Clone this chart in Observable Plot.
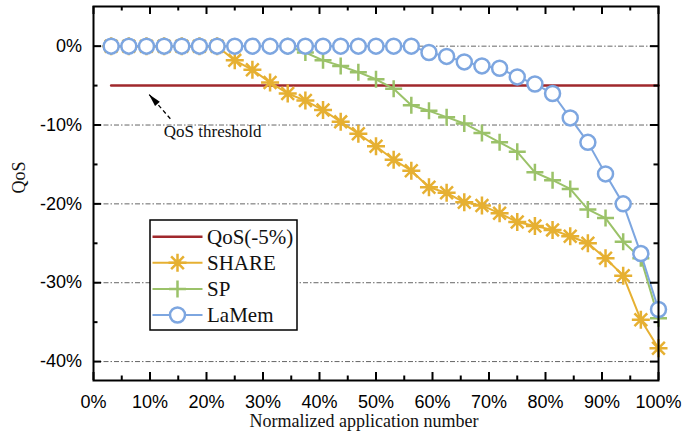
<!DOCTYPE html>
<html><head><meta charset="utf-8">
<script src="https://cdn.jsdelivr.net/npm/d3@7"></script>
<script src="https://cdn.jsdelivr.net/npm/@observablehq/plot@0.6"></script>
<style>body{margin:0;background:#fff}#chart{width:699px;height:439px}</style>
</head><body><div id="chart"></div>
<script>
// Normalized application number (%)
const appX = [3.125, 6.25, 9.375, 12.5, 15.625, 18.75, 21.875, 25, 28.125, 31.25, 34.375, 37.5, 40.625, 43.75, 46.875, 50,
  53.125, 56.25, 59.375, 62.5, 65.625, 68.75, 71.875, 75, 78.125, 81.25, 84.375, 87.5, 90.625, 93.75, 96.875, 100];
const shareQoS = [0, 0, 0, 0, 0, 0, 0, -1.8, -3.0, -4.6, -6.0, -6.9, -8.1, -9.6, -11.1, -12.7,
  -14.4, -15.8, -17.9, -18.6, -19.8, -20.2, -21.2, -22.3, -22.8, -23.3, -24.1, -25.0, -26.9, -29.1, -34.7, -38.3];
const spQoS = [0, 0, 0, 0, 0, 0, 0, 0, 0, 0, 0, -0.8, -1.8, -2.5, -3.3, -4.2,
  -5.4, -7.5, -8.2, -9.0, -9.8, -11.0, -12.2, -13.4, -16.0, -17.0, -18.1, -20.7, -21.8, -24.8, -26.9, -34.5];
const lamemQoS = [0, 0, 0, 0, 0, 0, 0, 0, 0, 0, 0, 0, 0, 0, 0, 0,
  0, 0, -0.8, -1.3, -2.0, -2.5, -2.8, -3.9, -4.8, -6.0, -9.1, -12.2, -16.2, -20.0, -26.3, -33.4];
const qosLevel = -5;
const seriesNames = ["QoS(-5%)", "SHARE", "SP", "LaMem"];
const xDomain = [0, 100];
const yDomain = [-42.4, 5.03];
const xMajor = [0, 10, 20, 30, 40, 50, 60, 70, 80, 90, 100];
const xMinor = [5, 15, 25, 35, 45, 55, 65, 75, 85, 95];
const yMajor = [0, -10, -20, -30, -40];
const yMinor = [-5, -15, -25, -35];
const annotText = "QoS threshold";
const annotTextPos = [21.1, -10.8];
const annotTail = [13.6, -9.2];
const annotTip = [9.8, -6.1];

const colors = {qos: "#A0282C", share: "#E6B032", sp: "#9BC269", lamem: "#7DA6E0"};

const W = 699, H = 439, mL = 93, mR = 41, mT = 6, mB = 59;
// data units per pixel (to express tick lengths in pixels)
const kx = (xDomain[1] - xDomain[0]) / (W - mL - mR);
const ky = (yDomain[1] - yDomain[0]) / (H - mT - mB);

const asteriskSym = {draw(ctx, size) {
  const r = Math.sqrt(size / Math.PI), d = r * Math.SQRT1_2;
  ctx.moveTo(-r, 0); ctx.lineTo(r, 0);
  ctx.moveTo(0, -r); ctx.lineTo(0, r);
  ctx.moveTo(-d, -d); ctx.lineTo(d, d);
  ctx.moveTo(-d, d); ctx.lineTo(d, -d);
}};
const plusSym = {draw(ctx, size) {
  const r = Math.sqrt(size / Math.PI);
  ctx.moveTo(-r, 0); ctx.lineTo(r, 0);
  ctx.moveTo(0, -r); ctx.lineTo(0, r);
}};
const headSym = {draw(ctx, size) {
  const r = Math.sqrt(size / Math.PI);
  ctx.moveTo(0, 0); ctx.lineTo(0.4 * r, 1.6 * r); ctx.lineTo(-0.4 * r, 1.6 * r); ctx.closePath();
}};

const share = appX.map((x, i) => ({x, y: shareQoS[i]}));
const sp = appX.map((x, i) => ({x, y: spQoS[i]})).filter((d, i) => i >= 10);
const lamem = appX.map((x, i) => ({x, y: lamemQoS[i]}));
const qos = appX.map(x => ({x, y: qosLevel}));

const sans = "Liberation Sans, Arial, sans-serif";
const serif = "Liberation Serif, Times New Roman, serif";

// inward tick marks on all four sides, drawn as short rules
const tickStyle = {stroke: "black", strokeWidth: 2, strokeLinecap: "butt"};
const xTicks = (vals, len) => [
  Plot.ruleX(vals, {x: d => d, y1: () => yDomain[0], y2: () => yDomain[0] + len * ky, ...tickStyle}),
  Plot.ruleX(vals, {x: d => d, y1: () => yDomain[1], y2: () => yDomain[1] - len * ky, ...tickStyle})
];
const yTicks = (vals, len) => [
  Plot.ruleY(vals, {y: d => d, x1: () => xDomain[0], x2: () => xDomain[0] + len * kx, ...tickStyle}),
  Plot.ruleY(vals, {y: d => d, x1: () => xDomain[1], x2: () => xDomain[1] - len * kx, ...tickStyle})
];

const plot = Plot.plot({
  width: W, height: H,
  marginLeft: mL, marginRight: mR, marginTop: mT, marginBottom: mB,
  x: {domain: xDomain, label: null},
  y: {domain: yDomain, label: null},
  style: {fontFamily: sans, background: "white"},
  marks: [
    Plot.ruleY(yMajor, {stroke: "#666", strokeWidth: 1, strokeDasharray: "5,2,1.5,2"}),
    Plot.line(qos, {x: "x", y: "y", stroke: colors.qos, strokeWidth: 2.5}),
    Plot.link([0], {x1: () => annotTail[0], y1: () => annotTail[1], x2: () => annotTip[0], y2: () => annotTip[1],
      stroke: "black", strokeWidth: 1.3, strokeDasharray: "4,3"}),
    Plot.dot([0], {x: () => annotTip[0], y: () => annotTip[1], symbol: headSym, r: 8, fill: "black", stroke: "none", rotate: -42}),
    Plot.text([annotText], {x: () => annotTextPos[0], y: () => annotTextPos[1], text: d => d,
      fontFamily: serif, fontSize: 17, fill: "#111"}),
    Plot.line(share, {x: "x", y: "y", stroke: colors.share, strokeWidth: 2}),
    Plot.dot(share, {x: "x", y: "y", symbol: asteriskSym, r: 9, stroke: colors.share, fill: "none", strokeWidth: 2.5}),
    Plot.line(sp, {x: "x", y: "y", stroke: colors.sp, strokeWidth: 2}),
    Plot.dot(sp, {x: "x", y: "y", symbol: plusSym, r: 8.5, stroke: colors.sp, fill: "none", strokeWidth: 2.5}),
    Plot.line(lamem, {x: "x", y: "y", stroke: colors.lamem, strokeWidth: 2}),
    Plot.dot(lamem, {x: "x", y: "y", r: 7.5, stroke: colors.lamem, fill: "white", strokeWidth: 2.5}),
    Plot.frame({stroke: "black", strokeWidth: 2}),
    ...xTicks(xMajor, 8), ...xTicks(xMinor, 4.5),
    ...yTicks(yMajor, 8), ...yTicks(yMinor, 4.5),
    Plot.axisX({ticks: xMajor, anchor: "bottom", tickSize: 0, tickPadding: 15, tickFormat: d => d + "%", fontSize: 18, label: null}),
    Plot.axisY({ticks: yMajor, anchor: "left", tickSize: 0, tickPadding: 11.5, tickFormat: d => d + "%", fontSize: 18, label: null}),
    Plot.text(["Normalized application number"], {frameAnchor: "bottom", dy: 46, dx: -12, text: d => d,
      fontFamily: serif, fontSize: 18, fill: "#111"}),
    Plot.text(["QoS"], {frameAnchor: "left", dx: -74, rotate: -90, text: d => d,
      fontFamily: serif, fontSize: 18, fill: "#111"})
  ]
});
document.getElementById("chart").appendChild(plot);

// Legend (inside the plot area)
const svg = d3.select(plot);
const lg = svg.append("g").attr("text-anchor", "start");
lg.append("rect").attr("x", 150).attr("y", 220).attr("width", 147).attr("height", 110)
  .attr("fill", "white").attr("stroke", "black").attr("stroke-width", 1.5);
const legendItems = [
  {name: seriesNames[0], color: colors.qos, sym: null, r: 0, fill: "none", lw: 2.5},
  {name: seriesNames[1], color: colors.share, sym: asteriskSym, r: 9, fill: "none", lw: 2},
  {name: seriesNames[2], color: colors.sp, sym: plusSym, r: 8.5, fill: "none", lw: 2},
  {name: seriesNames[3], color: colors.lamem, sym: d3.symbolCircle, r: 7.5, fill: "white", lw: 2}
];
legendItems.forEach((e, i) => {
  const y = 236.7 + i * 26.1;
  lg.append("line").attr("x1", 152.5).attr("x2", 202.5).attr("y1", y).attr("y2", y)
    .attr("stroke", e.color).attr("stroke-width", e.lw);
  if (e.sym) {
    lg.append("path").attr("transform", `translate(177.5,${y})`)
      .attr("d", d3.symbol().type(e.sym).size(e.r * e.r * Math.PI)())
      .attr("fill", e.fill).attr("stroke", e.color).attr("stroke-width", 2.5);
  }
  lg.append("text").attr("x", 207).attr("y", y + 7).attr("text-anchor", "start")
    .style("font-family", serif).style("font-size", "21px")
    .attr("fill", "#111").text(e.name);
});
</script></body></html>
